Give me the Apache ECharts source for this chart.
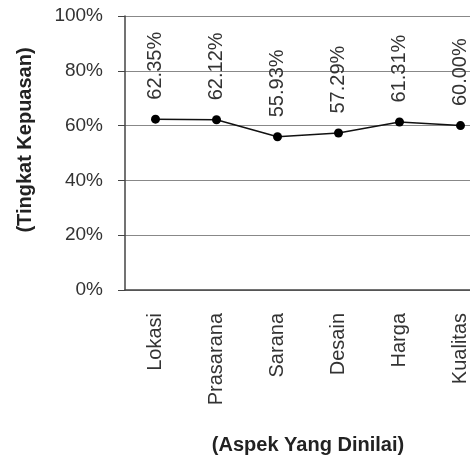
<!DOCTYPE html>
<html>
<head>
<meta charset="utf-8">
<script src="https://cdn.jsdelivr.net/npm/echarts@6/dist/echarts.min.js"></script>
<style>
  html, body { margin: 0; padding: 0; background: #fff; }
  #main { width: 470px; height: 456px; }
</style>
</head>
<body>
<div id="main"></div>
<script>
var aspek = ['Lokasi', 'Prasarana', 'Sarana', 'Desain', 'Harga', 'Kualitas'];
var kepuasan = [62.35, 62.12, 55.93, 57.29, 61.31, 60.00];

var font = '"Liberation Sans", Arial, sans-serif';
var chart = echarts.init(document.getElementById('main'));
chart.setOption({
  animation: false,
  grid: { left: 125, top: 16, width: 366, height: 274, outerBoundsMode: 'none' },
  xAxis: {
    type: 'category',
    data: aspek,
    name: '(Aspek Yang Dinilai)',
    nameLocation: 'middle',
    nameGap: 145,
    nameTextStyle: { fontFamily: font, fontWeight: 'bold', fontSize: 20, color: '#222' },
    axisLine: { lineStyle: { color: '#444', width: 1.5 } },
    axisTick: { alignWithLabel: true, length: 5, lineStyle: { color: '#444' } },
    axisLabel: { rotate: 90, margin: 23, fontFamily: font, fontSize: 20, color: '#333' }
  },
  yAxis: {
    type: 'value',
    min: 0,
    max: 100,
    interval: 20,
    name: '(Tingkat Kepuasan)',
    nameLocation: 'middle',
    nameRotate: 90,
    nameGap: 90,
    nameTextStyle: { fontFamily: font, fontWeight: 'bold', fontSize: 20, color: '#222', padding: [0, 0, 0, 26] },
    axisLine: { show: true, lineStyle: { color: '#444', width: 1.5 } },
    axisTick: { show: true, length: 7, lineStyle: { color: '#444' } },
    axisLabel: { formatter: '{value}%', margin: 22, fontFamily: font, fontSize: 19, color: '#333' },
    splitLine: { lineStyle: { color: '#888', width: 1 } }
  },
  series: [{
    type: 'line',
    data: kepuasan,
    symbol: 'circle',
    symbolSize: 9,
    itemStyle: { color: '#000' },
    lineStyle: { color: '#111', width: 1.5 },
    label: {
      show: true,
      position: 'top',
      distance: 15,
      rotate: 90,
      align: 'left',
      verticalAlign: 'middle',
      fontFamily: font,
      fontSize: 20,
      color: '#333',
      formatter: function (p) { return p.value.toFixed(2) + '%'; }
    }
  }]
});
</script>
</body>
</html>
